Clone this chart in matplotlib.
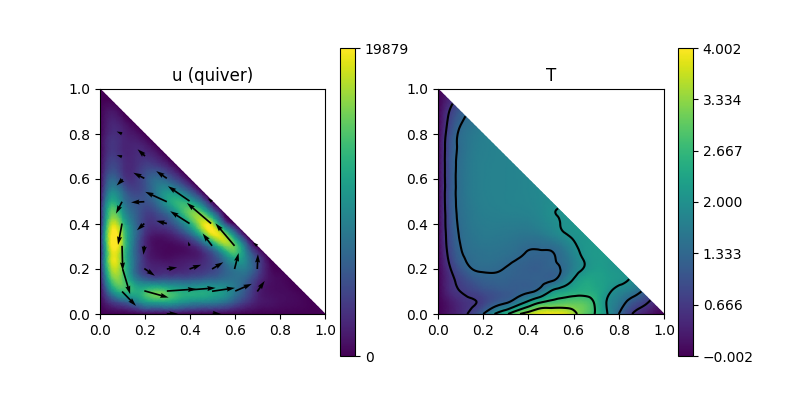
import numpy as np
import matplotlib
matplotlib.use("Agg")
import matplotlib.pyplot as plt
import matplotlib.tri as mtri
from matplotlib.cm import ScalarMappable
from matplotlib.colors import Normalize

# sampled fields on a triangular grid; row k is y = k*0.05, x = i*0.05
u_rows = [
 [0]*21,
 [0,3,5,7,10,11,11,10,9,8.5,8,7,5,3,1.5,1,.7,.5,.3,0],
 [0,9,13,12.5,13.5,15,14,12.5,12,12,11.5,10.5,8,5,2,.8,.6,.4,0],
 [0,14,15,10,7,6,6,6,6,6.5,7,7.5,7.5,6,3,1,.5,0],
 [0,17,15,7.5,3,2,2,2,2.5,3,4,6,8,8,4.5,1,0],
 [0,18.5,15,7.5,2.5,1,.7,1,1.3,2,4,8,12,9,4,0],
 [0,19.5,16,7.5,2.3,.6,.4,.6,1.5,4,9,15,15,7,0],
 [0,19.9,16,8,2.8,1.2,1.5,3,6,12,18.5,17.5,9,0],
 [0,18,14,7.5,3.5,3,4,7,12,18,17.5,7,0],
 [0,15,11,6.5,4,4.5,7,11.5,15.5,15,8,0],
 [0,12,8.5,5.5,5,7,11,13,11.5,7,0],
 [0,9,6.5,4,5,8,10,8.5,5,0],
 [0,6.5,4,3,5,7,6,3.5,0],
 [0,4.5,3,2.5,4,4,2.5,0],
 [0,3.5,2.5,2.3,2.7,1.8,0],
 [0,3,2.2,2,1.5,0],
 [0,2.5,2,1.2,0],
 [0,2,1.3,0],
 [0,1.2,0],
 [0,0],
 [0],
]
T_rows = [
 [0,.25,.5,.8,1.33,2.0,2.55,3.2,3.6,3.9,4.0,3.9,3.5,3.0,2.6,2.0,1.33,.75,.4,.15,0],
 [0,.25,.5,.63,.8,1.1,1.3,1.7,2.2,2.67,2.85,2.95,3.0,2.95,2.55,1.95,1.6,1.15,.85,.5],
 [0,.45,.67,.8,.95,1.05,1.12,1.18,1.27,1.5,2.05,2.3,2.45,2.5,2.4,2.1,1.85,1.65,1.33],
 [0,.5,.8,1.05,1.2,1.25,1.25,1.2,1.2,1.22,1.28,1.6,2.05,2.35,2.3,2.2,2.1,1.97],
 [0,.6,1.05,1.33,1.38,1.37,1.32,1.25,1.2,1.2,1.25,1.37,1.75,2.05,2.2,2.15,2.08],
 [0,.75,1.25,1.42,1.48,1.48,1.42,1.35,1.28,1.25,1.29,1.45,1.78,2.05,2.15,2.15],
 [0,.85,1.33,1.5,1.55,1.55,1.52,1.45,1.37,1.38,1.42,1.62,1.92,2.1,2.15],
 [0,.9,1.38,1.55,1.62,1.62,1.6,1.57,1.55,1.6,1.75,1.93,2.05,2.1],
 [0,.95,1.42,1.6,1.66,1.68,1.67,1.67,1.68,1.78,1.9,2.02,2.08],
 [0,.97,1.45,1.62,1.7,1.72,1.74,1.75,1.78,1.85,1.97,2.02],
 [0,1,1.47,1.65,1.72,1.75,1.78,1.8,1.82,1.87,1.93],
 [0,1,1.48,1.66,1.73,1.76,1.78,1.8,1.83,1.87],
 [0,1,1.48,1.66,1.73,1.76,1.78,1.8,1.83],
 [0,1,1.47,1.66,1.73,1.76,1.78,1.8],
 [0,1,1.45,1.65,1.72,1.75,1.78],
 [0,.98,1.43,1.63,1.71,1.75],
 [0,.92,1.42,1.6,1.7],
 [0,.8,1.3,1.5],
 [0,.67,1.15],
 [0,.45],
 [0],
]
# arrow tails and vectors, data units
q_x = [.598,.494,.398,.297,.398,.297,.197,.197,.200,.098,.098,.101,.098,.098,.098,.101,.098,.197,.297,.398,.498,.601,.699,.699,.598,.498,.398,.297,.197,.197,.197,.297,.498,.398,.699,.498,.297,.501]
q_y = [.303,.402,.502,.499,.402,.603,.603,.499,.702,.699,.801,.598,.499,.402,.303,.199,.100,.103,.102,.107,.101,.102,.100,.200,.200,.200,.200,.200,.202,.303,.402,.402,.303,.303,.303,.499,.001,.003]
q_u = [-.085,-.108,-.096,-.096,-.086,-.047,-.049,-.059,-.033,-.024,-.024,-.027,-.027,-.018,.003,.033,.062,.108,.131,.116,.102,.074,.033,.003,.018,.050,.052,.046,.047,-.004,-.033,-.047,-.042,-.007,-.019,-.019,.049,.037]
q_v = [.100,.092,.066,.044,.055,.032,.025,-.003,.030,.007,.010,-.027,-.053,-.095,-.111,-.111,-.064,-.030,.009,.009,.015,.032,.047,.066,.071,.030,.019,.007,-.032,-.040,-.030,.012,.055,.019,.015,.015,0,-.003]

u_min, u_max = 0, 19879
T_min, T_max = -0.002, 4.002
T_ticks = [-0.002, 0.666, 1.333, 2.000, 2.667, 3.334, 4.002]
T_levels = [0.666, 1.333, 2.000, 2.667, 3.334]
axis_ticks = [0, .2, .4, .6, .8, 1]

xs, ys, zu, zT = [], [], [], []
for k, (ru, rt) in enumerate(zip(u_rows, T_rows)):
    for i, (a, b) in enumerate(zip(ru, rt)):
        xs.append(i * 0.05); ys.append(k * 0.05)
        zu.append(a * 1000.0); zT.append(b)
tri = mtri.Triangulation(xs, ys)
ref = mtri.UniformTriRefiner(tri)
tu, fu = ref.refine_field(np.array(zu), subdiv=3)
tT, fT = ref.refine_field(np.array(zT), subdiv=3)
fu = np.clip(fu, u_min, u_max)
fT = np.clip(fT, T_min, T_max)

fig = plt.figure(figsize=(8, 4), dpi=100)
W, H = 800, 400
def box(l, t, r, b):
    return [l / W, (H - b) / H, (r - l) / W, (b - t) / H]

ax1 = fig.add_axes(box(100, 89, 325, 314))
cax1 = fig.add_axes(box(340, 48, 355, 356))
ax2 = fig.add_axes(box(438, 89, 664, 314))
cax2 = fig.add_axes(box(678, 48, 693, 356))

ax1.tripcolor(tu, fu, shading="gouraud", cmap="viridis", vmin=u_min, vmax=u_max)
ax1.quiver(q_x, q_y, q_u, q_v, angles="xy", scale_units="xy", scale=1,
           width=0.0075, color="k", zorder=3)
ax1.set_title("u (quiver)")
c1 = fig.colorbar(ScalarMappable(Normalize(u_min, u_max), "viridis"), cax=cax1)
c1.set_ticks([u_min, u_max])
c1.set_ticklabels(["0", "19879"])

ax2.tripcolor(tT, fT, shading="gouraud", cmap="viridis", vmin=T_min, vmax=T_max)
ax2.tricontour(tT, fT, levels=T_levels, colors="k", linewidths=1.5)
ax2.set_title("T")
c2 = fig.colorbar(ScalarMappable(Normalize(T_min, T_max), "viridis"), cax=cax2)
c2.set_ticks(T_ticks)
c2.set_ticklabels(["\u22120.002", "0.666", "1.333", "2.000", "2.667", "3.334", "4.002"])

for ax in (ax1, ax2):
    ax.set_xlim(0, 1); ax.set_ylim(0, 1)
    ax.set_xticks(axis_ticks); ax.set_yticks(axis_ticks)

fig.savefig("out.png", dpi=100)
